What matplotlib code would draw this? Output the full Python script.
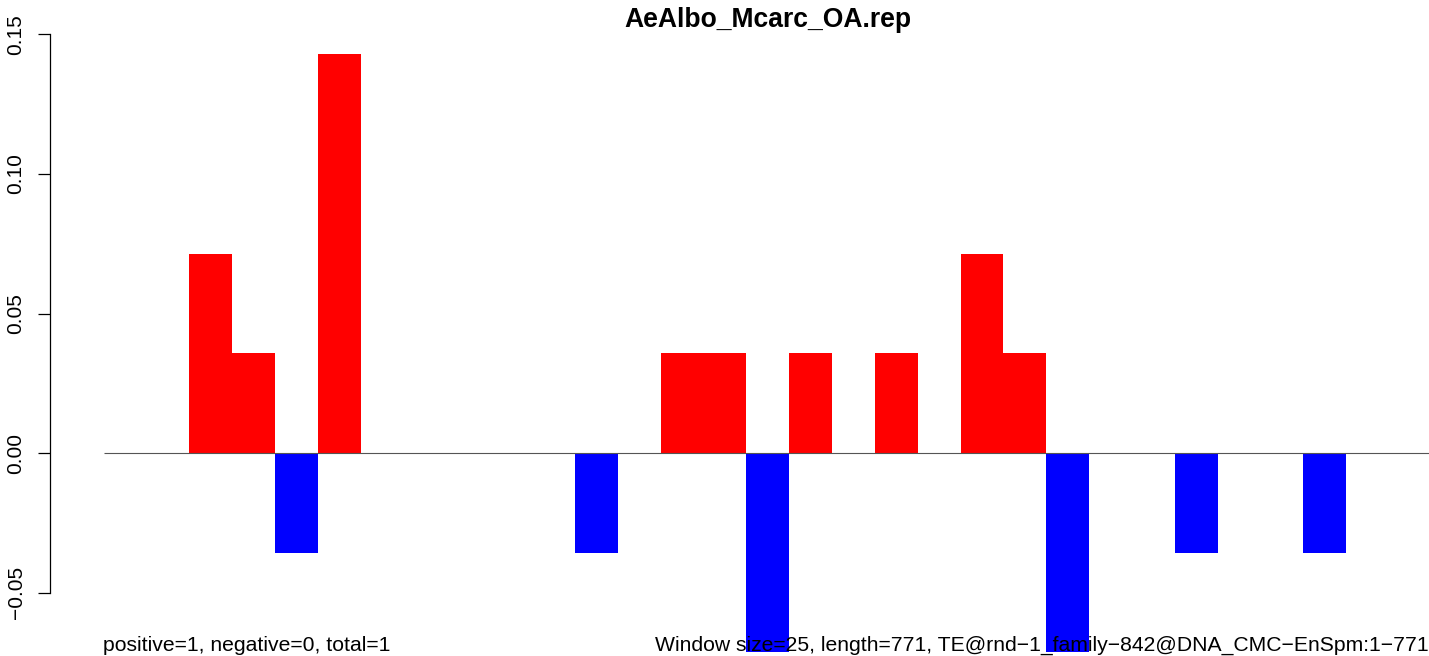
import matplotlib
matplotlib.use("Agg")
import matplotlib.pyplot as plt
import numpy as np

plt.rcParams['font.family'] = ['Liberation Sans', 'DejaVu Sans']

title = "AeAlbo_Mcarc_OA.rep"
window = 25
length = 771
# one value per 25 bp window (31 windows)
values = [0, 0, 0.0714, 0.0357, -0.0357, 0.1429, 0, 0, 0, 0,
          0, -0.0357, 0, 0.0357, 0.0357, -0.0714, 0.0357, 0, 0.0357, 0,
          0.0714, 0.0357, -0.0714, 0, 0, -0.0357, 0, 0, -0.0357, 0, 0]
left_note = "positive=1, negative=0, total=1"
right_note = "Window size=25, length=771, TE@rnd\u22121_family\u2212842@DNA_CMC\u2212EnSpm:1\u2212771"
yticks = [-0.05, 0.00, 0.05, 0.10, 0.15]

W, H = 1429, 656
fig = plt.figure(figsize=(W / 100, H / 100), dpi=100)
# plot region in pixels (R style)
ax = fig.add_axes([50 / W, 1 - 615 / H, (W - 50) / W, (615 - 12) / H])

x = np.arange(len(values))
colors = ['red' if v > 0 else 'blue' for v in values]
bars = ax.bar(x, values, width=1, align='edge', color=colors, linewidth=0, clip_on=False, zorder=2)

ax.set_xlim(-1.25, 30.93)
ax.set_ylim(-0.058, 0.158)
ax.hlines(0, 0, ax.get_xlim()[1], color='#555555', linewidth=0.8, zorder=3)

for s in ['top', 'right', 'bottom']:
    ax.spines[s].set_visible(False)
ax.spines['left'].set_bounds(-0.05, 0.15)
ax.spines['left'].set_linewidth(0.9)
ax.set_xticks([])
ax.set_yticks(yticks)
ax.set_yticklabels(['%.2f' % t if t >= 0 else '\u2212%.2f' % -t for t in yticks],
                   rotation=90, va='center', fontsize=15)
ax.tick_params(axis='y', length=8.6, width=0.9, pad=9)

fig.text(768 / W, 1 - 27 / H, title, ha='center', va='baseline', fontsize=19.1, fontweight='bold')
fig.text(103 / W, 1 - 651 / H, left_note, ha='left', va='baseline', fontsize=15.2, zorder=5)
fig.text(1429 / W, 1 - 651 / H, right_note, ha='right', va='baseline', fontsize=15.25, zorder=5)

fig.savefig("out.png", dpi=100)
